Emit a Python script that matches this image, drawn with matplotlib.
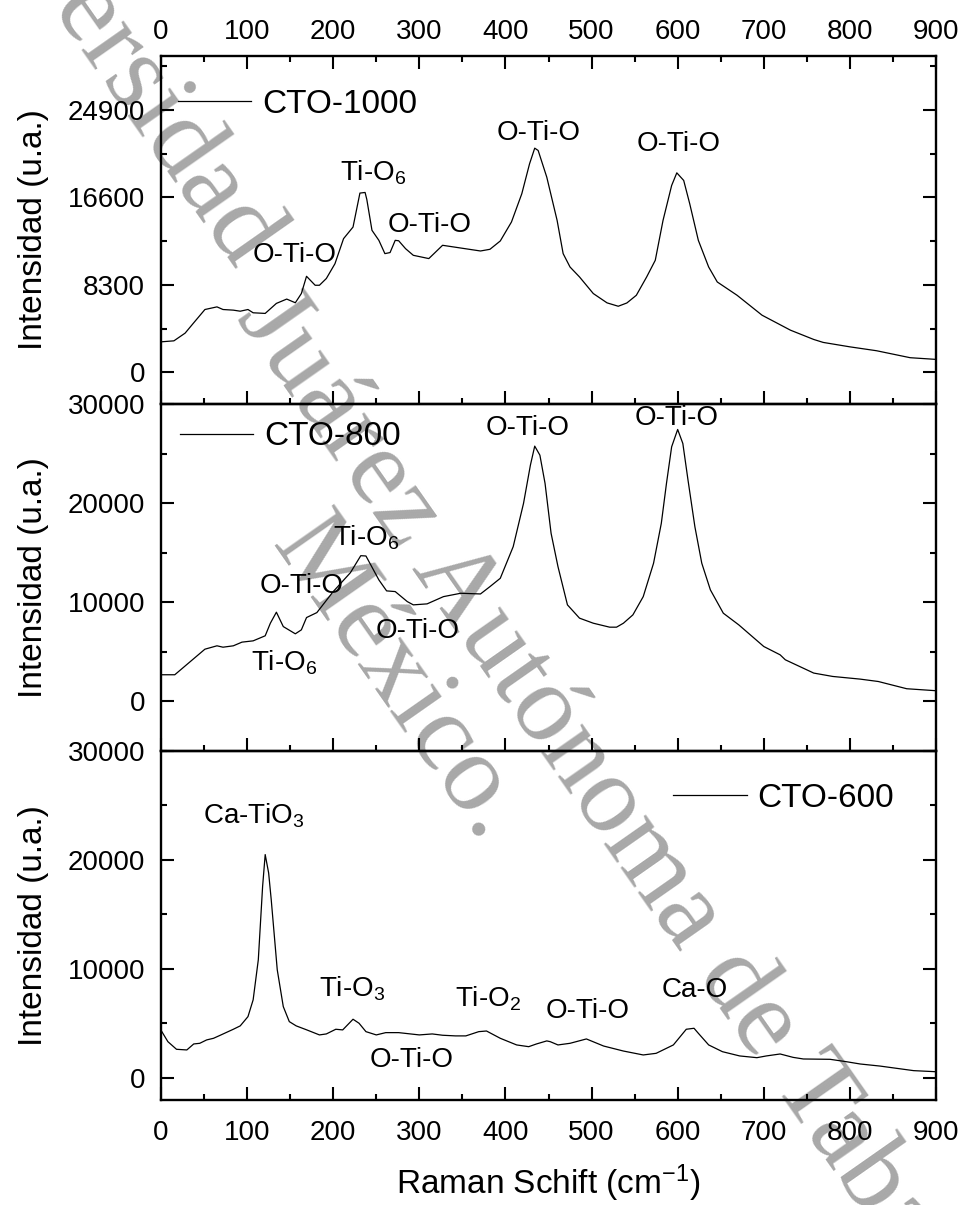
import matplotlib
matplotlib.use("Agg")
import matplotlib.pyplot as plt
from matplotlib.lines import Line2D
from matplotlib.ticker import MultipleLocator, FixedLocator

plt.rcParams['font.family'] = ['Liberation Sans', 'DejaVu Sans']
plt.rcParams['mathtext.default'] = 'regular'

# ---------------- data ----------------
x_cto1000 = [1, 15, 28, 38, 51, 65, 72, 84, 92, 101, 107, 121, 134, 146, 156, 163, 169, 179, 184, 192,
             202, 212, 223, 231, 237, 239, 245, 253, 260, 266, 272, 276, 284, 293, 311, 317, 327, 340,
             371, 382, 394, 407, 419, 428, 434, 438, 448, 460, 467, 475, 486, 502, 518, 531, 541, 552,
             564, 574, 583, 593, 599, 607, 614, 624, 636, 646, 669, 698, 731, 758, 769, 800, 831, 870, 900]
y_cto1000 = [2900, 2990, 3720, 4700, 5960, 6210, 5960, 5900, 5800, 5960, 5650, 5590, 6540, 6950, 6600,
             7475, 9110, 8260, 8260, 8900, 10300, 12680, 13780, 17000, 17060, 16400, 13470, 12520, 11260,
             11360, 12520, 12480, 11730, 11100, 10790, 11260, 12050, 11890, 11510, 11670, 12460, 14260,
             16940, 19780, 21260, 21040, 18510, 14410, 11260, 9990, 9050, 7475, 6590, 6270, 6580, 7310,
             9050, 10630, 14410, 17720, 18920, 18200, 15990, 12520, 9990, 8570, 7310, 5420, 4000, 3120,
             2840, 2420, 2050, 1390, 1230]

x_cto800 = [1, 16, 32, 51, 65, 72, 84, 94, 107, 121, 127, 134, 142, 156, 163, 169, 181, 200, 220, 232,
            238, 253, 262, 272, 286, 293, 309, 328, 348, 371, 382, 394, 409, 421, 429, 434, 440, 446, 453,
            461, 472, 486, 502, 521, 529, 537, 548, 560, 572, 581, 587, 593, 600, 606, 612, 620, 628, 638,
            653, 671, 700, 719, 725, 758, 780, 812, 833, 866, 900]
y_cto800 = [2690, 2690, 3870, 5270, 5610, 5470, 5610, 5980, 6110, 6620, 7890, 9000, 7550, 6820, 7220,
            8460, 8960, 11080, 12990, 14700, 14670, 12260, 11150, 11080, 10070, 9740, 9840, 10570, 10910,
            10840, 11580, 12420, 15610, 19980, 23840, 25750, 24840, 21990, 16960, 13600, 9740, 8400, 7890,
            7490, 7490, 7890, 8730, 10570, 13940, 17960, 21990, 25680, 27430, 26020, 22330, 17620, 13940,
            11250, 8900, 7720, 5540, 4700, 4200, 2860, 2520, 2250, 2010, 1280, 1080]

x_cto600 = [1, 8, 18, 30, 38, 45, 53, 61, 68, 84, 92, 101, 107, 113, 118, 121, 125, 128, 135, 142, 149,
            157, 169, 184, 192, 203, 211, 223, 230, 238, 250, 261, 276, 300, 315, 327, 342, 354, 369, 378,
            394, 413, 427, 436, 448, 452, 461, 475, 494, 514, 537, 560, 575, 595, 610, 619, 624, 636, 652,
            672, 692, 703, 719, 734, 746, 777, 796, 812, 835, 874, 900]
y_cto600 = [4230, 3310, 2610, 2550, 3100, 3160, 3470, 3620, 3870, 4450, 4760, 5610, 7150, 10830, 17570,
            20490, 18800, 16350, 9910, 6530, 5150, 4760, 4400, 3930, 4020, 4450, 4390, 5370, 5000, 4230,
            3930, 4140, 4140, 3930, 4020, 3900, 3840, 3840, 4230, 4290, 3620, 3010, 2850, 3100, 3380, 3310,
            3010, 3160, 3560, 2910, 2450, 2090, 2240, 3010, 4450, 4540, 4080, 3010, 2390, 2000, 1840, 2000,
            2180, 1870, 1720, 1690, 1470, 1260, 1070, 650, 550]

series_labels = ['CTO-1000', 'CTO-800', 'CTO-600']

yticks_1000 = [0, 8300, 16600, 24900]
yticks_800 = [0, 10000, 20000, 30000]
yticks_600 = [0, 10000, 20000, 30000]

# annotations: (text, x, y, ha)
ann_1000 = [('O-Ti-O', 155, 10470, 'center'), ('Ti-O$_6$', 208, 18200, 'left'),
            ('O-Ti-O', 312, 13310, 'center'), ('O-Ti-O', 438, 22050, 'center'),
            ('O-Ti-O', 601, 20970, 'center')]
ann_800 = [('Ti-O$_6$', 200, 15710, 'left'), ('O-Ti-O', 163, 10980, 'center'),
           ('Ti-O$_6$', 105, 3120, 'left'), ('O-Ti-O', 298, 6380, 'center'),
           ('O-Ti-O', 426, 26860, 'center'), ('O-Ti-O', 599, 27930, 'center')]
ann_600 = [('Ca-TiO$_3$', 49, 23340, 'left'), ('Ti-O$_3$', 183, 7450, 'left'),
           ('O-Ti-O', 291, 1010, 'center'), ('Ti-O$_2$', 341, 6530, 'left'),
           ('O-Ti-O', 496, 5460, 'center'), ('Ca-O', 620, 7450, 'center')]

# ---------------- figure ----------------
W, H = 962, 1205
fig = plt.figure(figsize=(W / 100, H / 100), dpi=100)

left = 161 / W
width = 775 / W
boxes = [(56, 404), (404, 751), (751, 1099.5)]
axes = []
for top, bot in boxes:
    ax = fig.add_axes([left, 1 - bot / H, width, (bot - top) / H])
    ax.patch.set_visible(False)
    axes.append(ax)

ax1, ax2, ax3 = axes
data = [(ax1, x_cto1000, y_cto1000, (-3000, 30000), yticks_1000, 4150, ann_1000),
        (ax2, x_cto800, y_cto800, (-5000, 30000), yticks_800, 5000, ann_800),
        (ax3, x_cto600, y_cto600, (-2000, 30000), yticks_600, 5000, ann_600)]

legend_pos = [(0.022, 0.862), (0.0245, 0.905), (0.661, 0.865)]

for i, (ax, xs, ys, ylim, yt, minor, anns) in enumerate(data):
    ax.plot(xs, ys, color='black', lw=0.9)
    ax.set_xlim(0, 900)
    ax.set_ylim(*ylim)
    ax.xaxis.set_major_locator(MultipleLocator(100))
    ax.xaxis.set_minor_locator(MultipleLocator(50))
    ax.yaxis.set_major_locator(FixedLocator(yt))
    ax.yaxis.set_minor_locator(MultipleLocator(minor))
    for s in ax.spines.values():
        s.set_linewidth(1.7)
    ax.tick_params(which='both', direction='in', width=1.5, right=True, labelsize=20)
    ax.tick_params(which='major', length=9.5)
    ax.tick_params(which='minor', length=4.5)
    ax.tick_params(axis='y', pad=11.5)
    ax.tick_params(axis='x', pad=14.5)
    ax.set_ylabel('Intensidad (u.a.)', fontsize=24)
    ax.yaxis.set_label_coords(-0.145, 0.5)
    for txt, xa, ya, ha in anns:
        ax.text(xa, ya, txt, fontsize=20, ha=ha, va='baseline')
    h = Line2D([], [], color='black', lw=0.9)
    ax.legend([h], [series_labels[i]], loc='center left', bbox_to_anchor=legend_pos[i],
              frameon=False, fontsize=24, handlelength=2.2, handletextpad=0.33,
              borderpad=0, borderaxespad=0)

ax1.tick_params(axis='x', which='both', top=True, labeltop=True, labelbottom=False, pad=8)
ax2.tick_params(axis='x', labelbottom=False)
ax3.set_xlabel('Raman Schift (cm$^{-1}$)', fontsize=24)
ax3.xaxis.set_label_coords(0.5, -0.182)

# watermark
wm_kw = dict(rotation=-55, rotation_mode='anchor', va='baseline', fontsize=80,
             family='Liberation Serif', color='#a8a8a8', zorder=-5)
fig.text(236 / W, 1 - 318 / H, 'Juárez Autónoma de Tabasco.', ha='left', **wm_kw)
fig.text(235 / W, 1 - 272 / H, 'Universidad', ha='right', **wm_kw)
fig.text(270 / W, 1 - 545 / H, 'México.', ha='left', **wm_kw)

fig.savefig('out.png', dpi=100)
